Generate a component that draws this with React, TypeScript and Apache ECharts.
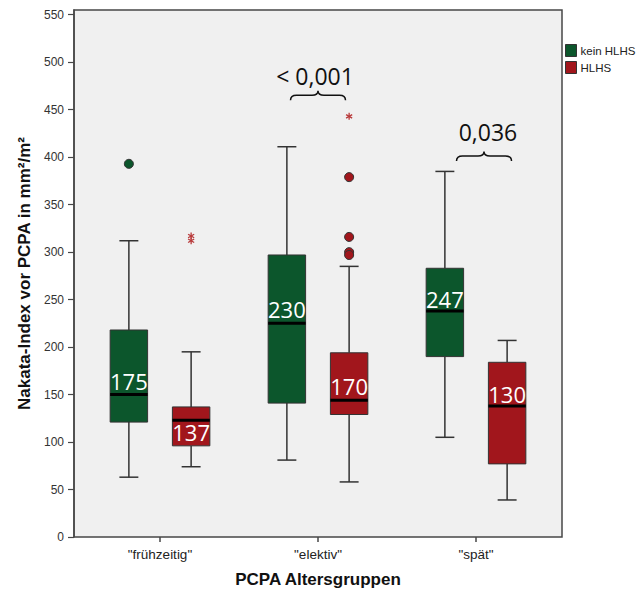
import React, { useEffect, useRef } from 'react';
import * as echarts from 'echarts';

// ---------- data ----------
const categories = ['"frühzeitig"', '"elektiv"', '"spät"'];
const seriesNames = ['kein HLHS', 'HLHS'];
const yTicks = [0, 50, 100, 150, 200, 250, 300, 350, 400, 450, 500, 550];

const keinMin = [63, 81, 105];
const keinQ1 = [121, 141, 190];
const keinMedian = [150, 225, 238];
const keinQ3 = [218, 297, 283];
const keinMax = [312, 411, 385];
const keinOutliers = [[393], [], []];
const keinExtremes: number[][] = [[], [], []];
const keinLabels = ['175', '230', '247'];
const keinLabelAt = [164, 240, 251];

const hlhsMin = [74, 58, 39];
const hlhsQ1 = [96, 129, 77];
const hlhsMedian = [123, 144, 138];
const hlhsQ3 = [137, 194, 184];
const hlhsMax = [195, 285, 207];
const hlhsOutliers = [[], [379, 316, 300, 297], []];
const hlhsExtremes = [[317, 312], [443], []];
const hlhsLabels = ['137', '170', '130'];
const hlhsLabelAt = [111, 159, 151];

const annotationTexts = ['< 0,001', '0,036'];
const annotationCats = [1, 2];
const annotationBraceAt = [460, 396];
const annotationTextAt = [485, 426];

// ---------- styles ----------
const GREEN = '#0c562c';
const RED = '#a1161c';
const STAR = '#b8393a';
const LINE = '#333333';
const AXIS = '#474747';
const FONT = '"Liberation Sans", Arial, sans-serif';
const annotationLayout = { braceShift: [0, 8], textShift: [-3, 12], braceWidth: 55 };

function makeBoxRenderer(
  side: number,
  fill: string,
  outliers: number[][],
  extremes: number[][],
  labels: string[],
  labelAt: number[]
) {
  return (params: any, api: any) => {
    const i = params.dataIndex;
    const cat = api.value(0);
    const band = api.size([1, 0])[0];
    const cx = api.coord([cat, 0])[0] + side * band * 0.197;
    const half = band * 0.1185;
    const capHalf = band * 0.06;
    const y = (v: number) => api.coord([cat, v])[1];
    const yMin = y(api.value(1));
    const yQ1 = y(api.value(2));
    const yMed = y(api.value(3));
    const yQ3 = y(api.value(4));
    const yMax = y(api.value(5));
    const ls = { stroke: LINE, lineWidth: 1.5 };
    const children: any[] = [
      { type: 'line', shape: { x1: cx, y1: yMin, x2: cx, y2: yQ1 }, style: ls },
      { type: 'line', shape: { x1: cx, y1: yQ3, x2: cx, y2: yMax }, style: ls },
      { type: 'line', shape: { x1: cx - capHalf, y1: yMin, x2: cx + capHalf, y2: yMin }, style: ls },
      { type: 'line', shape: { x1: cx - capHalf, y1: yMax, x2: cx + capHalf, y2: yMax }, style: ls },
      {
        type: 'rect',
        shape: { x: cx - half, y: yQ3, width: 2 * half, height: yQ1 - yQ3 },
        style: { fill, stroke: LINE, lineWidth: 1 },
      },
      {
        type: 'line',
        shape: { x1: cx - half, y1: yMed, x2: cx + half, y2: yMed },
        style: { stroke: '#000', lineWidth: 3 },
      },
    ];
    outliers[i].forEach((v) => {
      children.push({
        type: 'circle',
        shape: { cx, cy: y(v), r: 4.5 },
        style: { fill, stroke: LINE, lineWidth: 1 },
      });
    });
    extremes[i].forEach((v) => {
      const cy = y(v);
      const r = 3.5;
      [90, 30, 150].forEach((deg) => {
        const a = (deg * Math.PI) / 180;
        children.push({
          type: 'line',
          shape: {
            x1: cx - r * Math.cos(a),
            y1: cy - r * Math.sin(a),
            x2: cx + r * Math.cos(a),
            y2: cy + r * Math.sin(a),
          },
          style: { stroke: STAR, lineWidth: 1.3 },
        });
      });
    });
    children.push({
      type: 'text',
      x: cx,
      y: y(labelAt[i]),
      style: {
        text: labels[i],
        fill: '#ffffff',
        fontSize: 22,
        fontFamily: '"Open Sans", sans-serif',
        align: 'center',
        verticalAlign: 'middle',
      },
    });
    return { type: 'group', children };
  };
}

function renderAnnotation(params: any, api: any) {
  const i = params.dataIndex;
  const cat = api.value(0);
  const center = api.coord([cat, 0])[0];
  const bx = center + annotationLayout.braceShift[i];
  const w = annotationLayout.braceWidth;
  const x0 = bx - w / 2;
  const x1 = bx + w / 2;
  const yEnd = api.coord([cat, api.value(1)])[1];
  const yFlat = yEnd - 5;
  const yTip = yEnd - 9.5;
  const r = 6;
  const d =
    `M${x0},${yEnd} Q${x0},${yFlat} ${x0 + r},${yFlat} L${bx - r},${yFlat} ` +
    `Q${bx},${yFlat} ${bx},${yTip} Q${bx},${yFlat} ${bx + r},${yFlat} ` +
    `L${x1 - r},${yFlat} Q${x1},${yFlat} ${x1},${yEnd}`;
  return {
    type: 'group',
    children: [
      { type: 'path', shape: { pathData: d }, style: { stroke: '#111', fill: 'none', lineWidth: 1.5 } },
      {
        type: 'text',
        x: center + annotationLayout.textShift[i],
        y: api.coord([cat, api.value(2)])[1],
        style: {
          text: annotationTexts[i],
          fill: '#111',
          fontSize: 23,
          fontFamily: '"Open Sans", sans-serif',
          align: 'center',
          verticalAlign: 'middle',
        },
      },
    ],
  };
}

export default function App() {
  const ref = useRef<HTMLDivElement>(null);
  useEffect(() => {
    if (!ref.current) return;
    const chart = echarts.init(ref.current, null, { renderer: 'svg' });
    const keinData = categories.map((_, i) => [i, keinMin[i], keinQ1[i], keinMedian[i], keinQ3[i], keinMax[i]]);
    const hlhsData = categories.map((_, i) => [i, hlhsMin[i], hlhsQ1[i], hlhsMedian[i], hlhsQ3[i], hlhsMax[i]]);
    const annData = annotationTexts.map((_, i) => [annotationCats[i], annotationBraceAt[i], annotationTextAt[i]]);
    chart.setOption({
      animation: false,
      backgroundColor: '#ffffff',
      textStyle: { fontFamily: FONT },
      grid: [
        {
          left: 74,
          right: 78,
          top: 10,
          bottom: 57,
          show: true,
          backgroundColor: '#f0f0f0',
          borderColor: AXIS,
          borderWidth: 1.5,
        },
        { left: 81, right: 85, top: 10, bottom: 57 },
      ],
      legend: {
        orient: 'vertical',
        left: 565,
        top: 44,
        itemWidth: 11,
        itemHeight: 12,
        itemGap: 4,
        icon: 'rect',
        selectedMode: false,
        padding: 0,
        textStyle: { fontSize: 11.5, color: '#222', fontFamily: FONT, padding: [0, 0, 0, -1] },
        data: [
          { name: seriesNames[0], itemStyle: { color: GREEN, borderColor: LINE, borderWidth: 1 } },
          { name: seriesNames[1], itemStyle: { color: RED, borderColor: LINE, borderWidth: 1 } },
        ],
      },
      xAxis: [
        { type: 'value', gridIndex: 0, show: false, min: 0, max: 1 },
        {
          type: 'category',
          gridIndex: 1,
          data: categories,
          boundaryGap: true,
          axisLine: { show: false },
          axisTick: { show: true, alignWithLabel: true, length: 5, lineStyle: { color: AXIS, width: 1.5 } },
          axisLabel: { fontSize: 13.5, color: '#222', margin: 10, fontFamily: FONT },
          name: 'PCPA Altersgruppen',
          nameLocation: 'middle',
          nameGap: 34,
          nameTextStyle: { fontSize: 17, fontWeight: 'bold', color: '#111', fontFamily: FONT },
        },
      ],
      yAxis: [
        { type: 'value', gridIndex: 0, show: false, min: 0, max: 1 },
        {
          type: 'value',
          gridIndex: 1,
          min: 0,
          max: 555,
          interval: 50,
          offset: 7,
          axisLine: { show: true, lineStyle: { color: AXIS, width: 1.5 } },
          axisTick: { show: true, length: 6, lineStyle: { color: AXIS, width: 1.2 }, customValues: yTicks },
          axisLabel: { fontSize: 12, color: '#333', margin: 10, fontFamily: FONT, customValues: yTicks },
          splitLine: { show: false },
          name: 'Nakata-Index vor PCPA in mm²/m²',
          nameLocation: 'middle',
          nameGap: 41,
          nameTextStyle: { fontSize: 17, fontWeight: 'bold', color: '#111', fontFamily: FONT },
        },
      ],
      series: [
        {
          type: 'custom',
          name: seriesNames[0],
          xAxisIndex: 1,
          yAxisIndex: 1,
          itemStyle: { color: GREEN },
          encode: { x: 0, y: [1, 2, 3, 4, 5] },
          data: keinData,
          renderItem: makeBoxRenderer(-1, GREEN, keinOutliers, keinExtremes, keinLabels, keinLabelAt),
        },
        {
          type: 'custom',
          name: seriesNames[1],
          xAxisIndex: 1,
          yAxisIndex: 1,
          itemStyle: { color: RED },
          encode: { x: 0, y: [1, 2, 3, 4, 5] },
          data: hlhsData,
          renderItem: makeBoxRenderer(1, RED, hlhsOutliers, hlhsExtremes, hlhsLabels, hlhsLabelAt),
        },
        {
          type: 'custom',
          name: 'annotations',
          xAxisIndex: 1,
          yAxisIndex: 1,
          clip: false,
          encode: { x: 0, y: [1, 2] },
          data: annData,
          renderItem: renderAnnotation,
        },
      ],
    });
    return () => chart.dispose();
  }, []);
  return (
    <div
      ref={ref}
      style={{ position: 'fixed', left: 0, top: 0, width: 640, height: 594, background: '#fff' }}
    />
  );
}
